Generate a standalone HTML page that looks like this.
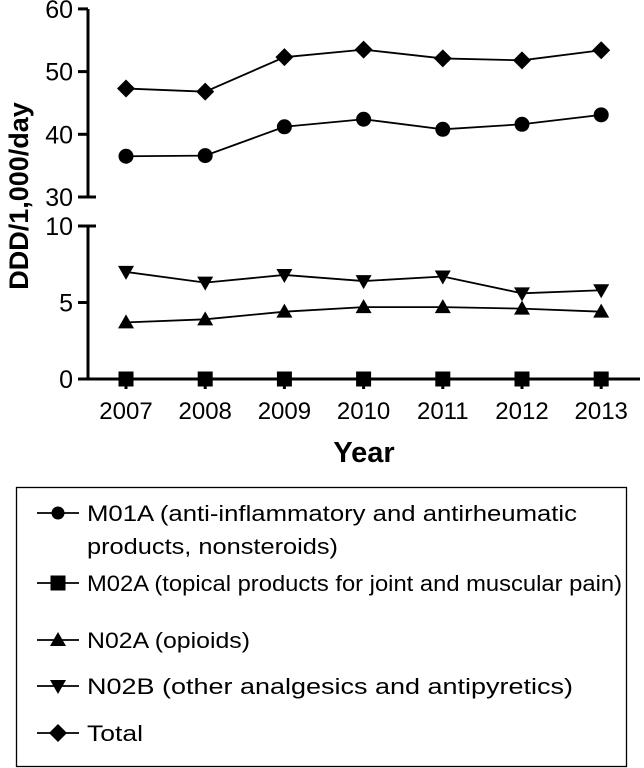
<!DOCTYPE html>
<html><head><meta charset="utf-8"><style>
body{margin:0;background:#fff;width:644px;height:768px;overflow:hidden;font-family:"Liberation Sans",Arial,sans-serif}
svg{position:absolute;left:0;top:0}
</style></head><body>
<svg id="chart" width="644" height="768" xmlns="http://www.w3.org/2000/svg"></svg>
<script>
const years = ["2007","2008","2009","2010","2011","2012","2013"];
const totalVals = [47.3, 46.8, 52.3, 53.5, 52.1, 51.8, 53.4];
const m01aVals = [36.5, 36.6, 41.2, 42.4, 40.8, 41.6, 43.1];
const m02aVals = [0, 0, 0, 0, 0, 0, 0];
const n02aVals = [3.7, 3.9, 4.4, 4.7, 4.7, 4.6, 4.4];
const n02bVals = [7.0, 6.3, 6.8, 6.4, 6.7, 5.6, 5.8];
const upperTicks = [30, 40, 50, 60];
const lowerTicks = [0, 5, 10];

const NS = "http://www.w3.org/2000/svg";
const svg = document.getElementById('chart');
function mk(tag, attrs, parent){const e=document.createElementNS(NS,tag);for(const k in attrs)e.setAttribute(k,attrs[k]);(parent||svg).appendChild(e);return e;}
function x(i){return 126 + i*79.2;}
function yU(v){return 197 - (v-30)*6.27;}
function yL(v){return 379 - v*15.3;}
function y(v){return v>=20 ? yU(v) : yL(v);}

const ax = mk('g',{});


mk('line',{x1:88,y1:9,x2:88,y2:197,stroke:'#000','stroke-width':3},ax);
mk('line',{x1:88,y1:226,x2:88,y2:380,stroke:'#000','stroke-width':3},ax);
upperTicks.forEach(t=>{
  mk('line',{x1:78,y1:yU(t),x2:t===30?96:88,y2:yU(t),stroke:'#000','stroke-width':3},ax);
  const tx=mk('text',{x:73,y:yU(t)+9,'text-anchor':'end','font-size':25},ax);tx.textContent=t;
  
  
});
lowerTicks.forEach(t=>{
  mk('line',{x1:78,y1:yL(t),x2:t===10?96:88,y2:yL(t),stroke:'#000','stroke-width':3},ax);
  const tx=mk('text',{x:73,y:yL(t)+9,'text-anchor':'end','font-size':25},ax);tx.textContent=t;
  
  
});
const xa = mk('g',{});


mk('line',{x1:87,y1:379,x2:640,y2:379,stroke:'#000','stroke-width':3},xa);
years.forEach((yr,i)=>{
  mk('line',{x1:x(i),y1:379,x2:x(i),y2:389,stroke:'#000','stroke-width':3},xa);
  const tx=mk('text',{x:x(i),y:419,'text-anchor':'middle','font-size':24},xa);tx.textContent=yr;
  
  
});
const yt=mk('text',{x:0,y:0,transform:'translate(28,196) rotate(-90)','text-anchor':'middle','font-size':27,'font-weight':'bold'});
yt.textContent='DDD/1,000/day';


const xt=mk('text',{x:364,y:462,'text-anchor':'middle','font-size':29,'font-weight':'bold'});
xt.textContent='Year';



function marker(type,cx,cy,parent){
  if(type==='circle') return mk('circle',{cx:cx,cy:cy,r:7.5,fill:'#000'},parent);
  if(type==='square') return mk('rect',{x:cx-7.5,y:cy-7.5,width:15,height:15,fill:'#000'},parent);
  if(type==='up') return mk('polygon',{points:`${cx},${cy-8} ${cx-8},${cy+6} ${cx+8},${cy+6}`,fill:'#000'},parent);
  if(type==='down') return mk('polygon',{points:`${cx},${cy+8} ${cx-8},${cy-6} ${cx+8},${cy-6}`,fill:'#000'},parent);
  return mk('polygon',{points:`${cx},${cy-9} ${cx+9},${cy} ${cx},${cy+9} ${cx-9},${cy}`,fill:'#000'},parent);
}
const series=[
  {name:'series-total',vals:totalVals,m:'diamond'},
  {name:'series-m01a',vals:m01aVals,m:'circle'},
  {name:'series-m02a',vals:m02aVals,m:'square'},
  {name:'series-n02a',vals:n02aVals,m:'up'},
  {name:'series-n02b',vals:n02bVals,m:'down'}
];
series.forEach(s=>{
  const g=mk('g',{});
  
  
  mk('polyline',{points:s.vals.map((v,i)=>x(i)+','+y(v)).join(' '),fill:'none',stroke:'#000','stroke-width':1.8},g);
  s.vals.forEach((v,i)=>{const p=marker(s.m,x(i),y(v),g);
    
    });
});

const lg=mk('g',{});


mk('rect',{x:16.5,y:487.5,width:610,height:279,fill:'none',stroke:'#000','stroke-width':1.3},lg);
const entries=[
  {m:'circle',y:513,lines:['M01A (anti-inflammatory and antirheumatic','products, nonsteroids)'],w:[490,251]},
  {m:'square',y:583,lines:['M02A (topical products for joint and muscular pain)'],w:[535]},
  {m:'up',y:640,lines:['N02A (opioids)'],w:[163]},
  {m:'down',y:686,lines:['N02B (other analgesics and antipyretics)'],w:[486]},
  {m:'diamond',y:733,lines:['Total'],w:[56]}
];
entries.forEach(e=>{
  const g=mk('g',{},lg);
  
  
  mk('line',{x1:37,y1:e.y,x2:79,y2:e.y,stroke:'#000','stroke-width':1.8},g);
  const mm=marker(e.m,58,e.y,g);
  if(e.m==='circle')mm.setAttribute('r',6.5);
  e.lines.forEach((l,k)=>{const t=mk('text',{x:87,y:e.y+8+k*33,'font-size':22,textLength:e.w[k],lengthAdjust:'spacingAndGlyphs'},g);t.textContent=l;});
});
</script>
</body></html>
